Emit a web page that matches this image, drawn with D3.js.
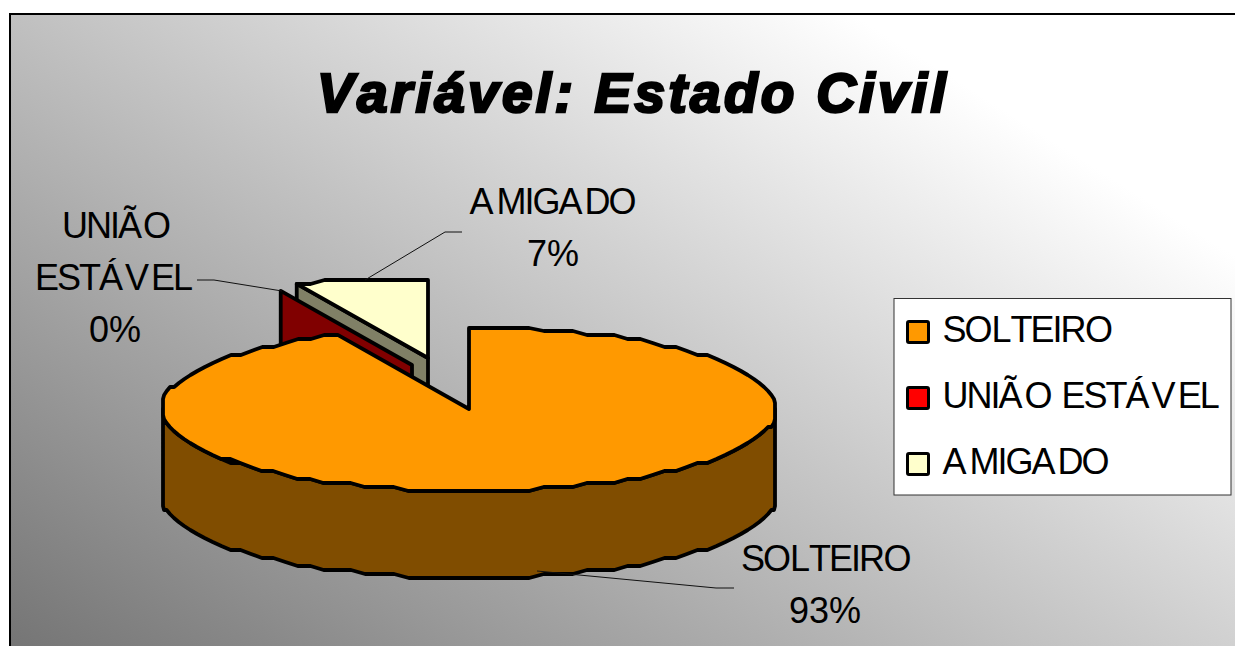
<!DOCTYPE html>
<html><head><meta charset="utf-8">
<style>html,body{margin:0;padding:0;background:#fff;overflow:hidden}svg{display:block}
text{font-family:"Liberation Sans",Arial,sans-serif;fill:#000;font-kerning:none}</style>
<script src="https://cdn.jsdelivr.net/npm/d3@7/dist/d3.min.js"></script>
</head><body><svg id="c" width="1235" height="646"></svg>
<script>
const categories = ["SOLTEIRO", "UNIÃO ESTÁVEL", "AMIGADO"];
const values = [93, 0, 7];
const percentLabels = ["93%", "0%", "7%"];
const titleText = "Variável: Estado Civil";

const topColors = ["#ff9900", "#ff0000", "#ffffcc"];
const wallColors = ["#804d00", "#800000", "#808066"];

const svg = d3.select("#c");
const defs = svg.append("defs");
const g = defs.append("linearGradient").attr("id", "bg").attr("gradientUnits", "userSpaceOnUse")
  .attr("x1", 10).attr("y1", 646).attr("x2", 536).attr("y2", -186);
g.append("stop").attr("offset", 0).attr("stop-color", "#757575");
g.append("stop").attr("offset", 1).attr("stop-color", "#ffffff");

svg.append("rect").attr("x", 10).attr("y", 14).attr("width", 1300).attr("height", 700).attr("fill", "url(#bg)").attr("stroke", "#000").attr("stroke-width", 2);

// pie geometry
const cx = 469, cy = 409, rx = 308.3, ry = 82, depth = 87;
const offsets = [[0, 0], [-57, -44], [-41, -51]];
const minY = [-81, -81, -78];
const arcs = d3.pie().sort(null).value(d => d)(values);
const sx = d3.scaleLinear().domain([-1, 1]).range([-rx, rx]);
const sy = d3.scaleLinear().domain([-1, 1]).range([-ry, ry]);
const snap = 4;
const clampX = x => Math.max(-306, Math.min(306, x));
function rimPoint(a, i, dz) {
  const o = offsets[i];
  const y = Math.round((Math.max(minY[i], sy(-Math.cos(a))) - ry) / snap) * snap + ry;
  return [cx + o[0] + clampX(sx(Math.sin(a))), cy + o[1] + Math.max(minY[i], y) + dz];
}
function exact(a, i, dz) {
  const o = offsets[i];
  return [cx + o[0] + clampX(sx(Math.sin(a))), cy + o[1] + Math.max(minY[i], sy(-Math.cos(a))) + dz];
}
function rim(a0, a1, i, dz) {
  const n = Math.max(1, Math.round(Math.abs(a1 - a0) / (Math.PI / 64)));
  const pts = d3.range(n + 1).map(k => rimPoint(a0 + (a1 - a0) * k / n, i, dz));
  pts[0] = exact(a0, i, dz); pts[n] = exact(a1, i, dz);
  return pts;
}
const line = d3.line();
const S = 3.8;
function draw(pts, fill) {
  svg.append("path").attr("d", line(pts) + "Z").attr("fill", fill).attr("stroke", "#000")
    .attr("stroke-width", S).attr("stroke-linejoin", "round");
}
function cutWall(a, i) {
  const o = offsets[i], c = [cx + o[0], cy + o[1]], e = exact(a, i, 0);
  draw([e, c, [c[0], c[1] + depth], [e[0], e[1] + depth]], wallColors[i]);
}
// amigado (exploded): wall, then top
cutWall(arcs[2].startAngle, 2);
draw([[cx + offsets[2][0], cy + offsets[2][1]], ...rim(arcs[2].startAngle, arcs[2].endAngle, 2, 0)], topColors[2]);
// uniao estavel: zero-width slice, only its cut wall shows
cutWall(arcs[1].startAngle, 1);
// solteiro: outer wall then top
const wallEnd = Math.min(arcs[0].endAngle, 3 * Math.PI / 2);
draw([...rim(Math.PI / 2, wallEnd, 0, 0), ...rim(Math.PI / 2, wallEnd, 0, depth).reverse()], wallColors[0]);
draw([[cx, cy], ...rim(arcs[0].startAngle, arcs[0].endAngle, 0, 0)], topColors[0]);

// leader lines
const leaders = [
  [[537, 571], [716, 588], [734, 588]],
  [[197, 280], [214, 280], [282, 291]],
  [[365, 280], [445, 232], [462, 232]]
];
leaders.forEach(l => svg.append("path").attr("d", d3.line()(l)).attr("fill", "none").attr("stroke", "#111").attr("stroke-width", 1));

// title
svg.append("text").text(titleText).attr("x", 633).attr("y", 112).attr("text-anchor", "middle")
  .attr("font-size", 55).attr("font-weight", "bold").attr("font-style", "italic")
  .attr("letter-spacing", 3.3).attr("stroke", "#000").attr("stroke-width", 2.6);

// glyph spacing of the original's tight text
const gaps = {
  "SOLTEIRO": "0 -2 -1 -1 -2 -2 -2 -1.5",
  "UNIÃO ESTÁVEL": "0 -2 -2 -2 2 -1 0 -2 -2 -2 2 2 -2",
  "AMIGADO": "0 3 -2 -2 -2 2 -2",
  "UNIÃO": "0 -2 -2 -2 1",
  "ESTÁVEL": "0 -2 -2 -2 2 2 -2"
};
function label(str, x, y) {
  return svg.append("text").text(str).attr("x", x).attr("y", y)
    .attr("font-size", 36).attr("dx", gaps[str] || "0 0 0");
}
label(categories[0], 741, 571);
label(percentLabels[0], 789, 623);
label("UNIÃO", 62, 238);
label("ESTÁVEL", 35, 290);
label(percentLabels[1], 89, 342);
label(categories[2], 469.5, 214);
label(percentLabels[2], 527, 266);

// legend
svg.append("rect").attr("x", 894).attr("y", 298.5).attr("width", 337).attr("height", 196.5).attr("fill", "#fff").attr("stroke", "#333").attr("stroke-width", 1);
const ly = d3.scalePoint().domain(categories).range([332, 464]);
categories.forEach((c, i) => {
  svg.append("rect").attr("x", 907.5).attr("y", ly(c) - 10.5).attr("width", 21).attr("height", 21).attr("rx", 1.5)
    .attr("fill", topColors[i]).attr("stroke", "#000").attr("stroke-width", 3);
  label(c, 942.5, ly(c) + 10);
});
</script></body></html>
